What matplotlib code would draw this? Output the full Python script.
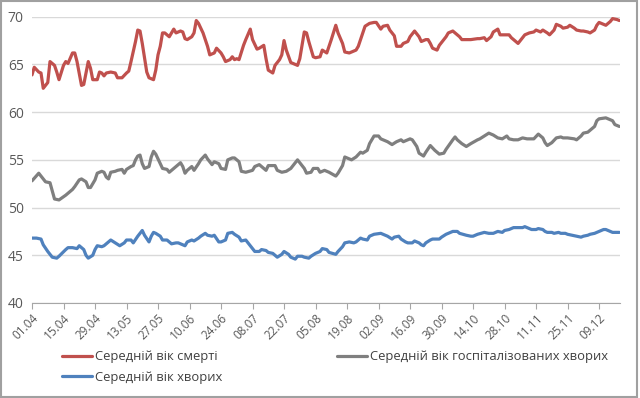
import numpy as np
import pandas as pd
import matplotlib
matplotlib.use("Agg")
import matplotlib.pyplot as plt
import matplotlib.dates as mdates
from matplotlib.patches import Rectangle

plt.rcParams["font.family"] = ["Open Sans", "DejaVu Sans"]

# --- data: days since 01.04, average age ---
START = pd.Timestamp("2020-04-01")

death_day = [0, 1, 3, 4, 5, 7, 8, 10, 11, 12, 14, 15, 16, 18, 19, 20, 22, 23, 25, 26,
             27, 29, 30, 31, 32, 33, 35, 37, 38, 40, 42, 43, 44, 46, 47, 48, 49, 51, 52, 54,
             55, 56, 57, 58, 59, 61, 62, 63, 64, 66, 67, 68, 69, 71, 72, 73, 74, 76, 78, 79,
             81, 82, 84, 85, 86, 88, 89, 90, 91, 92, 94, 95, 97, 98, 100, 101, 103, 104, 105, 107,
             108, 110, 111, 112, 113, 115, 116, 118, 119, 121, 122, 123, 125, 126, 128, 129, 131, 133, 135, 136,
             138, 139, 141, 142, 144, 145, 147, 148, 150, 152, 153, 155, 156, 158, 159, 161, 162, 164, 165, 167,
             168, 170, 172, 173, 175, 176, 177, 178, 180, 181, 184, 185, 187, 188, 190, 191, 193, 195, 198, 199,
             201, 202, 204, 205, 207, 208, 210, 212, 213, 215, 216, 218, 219, 221, 223, 224, 226, 227, 229, 230,
             232, 233, 235, 236, 238, 239, 241, 242, 244, 245, 247, 248, 250, 251, 252, 255, 256, 257, 258, 260,
             261]
death_age = [63.9, 64.7, 64.2, 64.1, 62.5, 63.1, 65.3, 64.9, 64.2, 63.4, 64.9, 65.3, 65.1, 66.2, 66.2, 65.3, 62.8, 62.9, 65.3, 64.6,
             63.4, 63.4, 64.2, 64.1, 63.8, 64.1, 64.2, 64.1, 63.6, 63.6, 64.1, 64.3, 65.3, 67.4, 68.6, 68.5, 67.2, 64.2, 63.6, 63.4,
             64.4, 66.0, 66.9, 68.3, 68.3, 67.9, 68.3, 68.7, 68.3, 68.5, 68.4, 67.7, 67.6, 67.9, 68.3, 69.6, 69.3, 68.3, 66.9, 66.0,
             66.2, 66.7, 66.2, 65.8, 65.3, 65.5, 65.8, 65.5, 65.6, 65.5, 67.0, 67.6, 68.7, 67.6, 66.6, 66.7, 67.0, 65.6, 64.4, 64.1,
             64.9, 65.5, 66.0, 67.5, 66.5, 65.2, 65.1, 64.9, 65.6, 68.4, 68.3, 67.4, 65.8, 65.7, 65.8, 66.5, 66.2, 67.6, 69.1, 68.3,
             67.2, 66.3, 66.2, 66.3, 66.5, 66.9, 68.3, 69.0, 69.3, 69.4, 69.4, 68.7, 69.0, 69.1, 68.6, 68.0, 66.9, 66.9, 67.2, 67.4,
             67.9, 68.5, 67.9, 67.4, 67.6, 67.6, 67.2, 66.7, 66.5, 67.0, 67.9, 68.3, 68.5, 68.3, 67.9, 67.6, 67.6, 67.6, 67.7, 67.7,
             67.8, 67.5, 67.9, 68.4, 68.7, 68.1, 68.1, 68.1, 67.8, 67.4, 67.2, 67.8, 68.1, 68.3, 68.4, 68.6, 68.4, 68.6, 68.3, 68.1,
             68.6, 69.2, 69.0, 68.8, 68.9, 69.1, 68.8, 68.6, 68.5, 68.5, 68.4, 68.3, 68.6, 69.1, 69.4, 69.1, 69.3, 69.5, 69.8, 69.7,
             69.6]

hosp_day = [0, 3, 6, 8, 10, 12, 15, 18, 19, 21, 22, 24, 25, 26, 28, 29, 31, 32, 33, 34,
            35, 37, 38, 40, 41, 42, 44, 45, 46, 47, 48, 49, 50, 52, 53, 54, 55, 57, 58, 60,
            61, 63, 64, 66, 67, 68, 69, 71, 72, 74, 75, 77, 78, 80, 81, 83, 84, 86, 87, 89,
            90, 92, 93, 95, 98, 99, 101, 102, 104, 105, 107, 108, 109, 111, 113, 115, 116, 118, 119, 121,
            122, 124, 125, 127, 128, 130, 132, 135, 136, 138, 139, 141, 142, 144, 146, 147, 149, 150, 152, 154,
            155, 158, 160, 162, 164, 165, 167, 168, 169, 171, 172, 174, 175, 177, 179, 181, 183, 184, 187, 188,
            189, 191, 193, 195, 198, 199, 201, 203, 205, 207, 209, 211, 212, 214, 216, 218, 220, 221, 223, 225,
            227, 228, 229, 231, 233, 235, 236, 238, 241, 242, 244, 245, 247, 248, 250, 251, 252, 255, 256, 258,
            259, 261]
hosp_age = [52.8, 53.6, 52.7, 52.6, 50.9, 50.8, 51.3, 51.9, 52.2, 52.9, 53.0, 52.7, 52.1, 52.1, 52.9, 53.6, 53.8, 53.7, 53.2, 53.0,
            53.7, 53.8, 53.9, 54.0, 53.6, 54.0, 54.3, 54.4, 55.0, 55.4, 55.5, 54.6, 54.1, 54.3, 55.3, 55.9, 55.6, 54.6, 54.1, 54.0,
            53.7, 54.1, 54.3, 54.7, 54.3, 53.6, 53.9, 54.3, 53.9, 54.6, 55.0, 55.5, 55.1, 54.5, 54.8, 54.6, 54.1, 54.0, 55.0, 55.2,
            55.2, 54.8, 53.8, 53.7, 53.9, 54.3, 54.5, 54.3, 53.9, 54.4, 54.4, 54.4, 53.9, 53.7, 53.8, 54.1, 54.4, 55.0, 54.7, 54.1,
            53.6, 53.7, 54.1, 54.1, 53.7, 53.9, 53.7, 53.3, 53.6, 54.4, 55.3, 55.1, 55.0, 55.3, 55.8, 55.7, 56.0, 56.7, 57.5, 57.5,
            57.2, 56.9, 56.6, 56.9, 57.1, 56.9, 57.1, 57.2, 57.1, 56.4, 55.7, 55.4, 55.8, 56.5, 56.0, 55.6, 55.7, 56.1, 57.1, 57.4,
            57.1, 56.7, 56.4, 56.7, 57.1, 57.2, 57.5, 57.8, 57.6, 57.3, 57.2, 57.5, 57.2, 57.1, 57.1, 57.3, 57.2, 57.2, 57.2, 57.7,
            57.3, 56.8, 56.5, 56.8, 57.3, 57.4, 57.3, 57.3, 57.2, 57.1, 57.5, 57.8, 57.9, 58.1, 58.5, 59.1, 59.3, 59.4, 59.3, 59.1,
            58.7, 58.5]

sick_day = [0, 2, 4, 5, 7, 9, 11, 12, 15, 16, 18, 20, 21, 23, 24, 25, 27, 28, 29, 31,
            32, 34, 35, 37, 39, 41, 42, 44, 45, 47, 48, 49, 50, 52, 53, 54, 55, 57, 58, 60,
            61, 62, 64, 65, 67, 68, 69, 71, 72, 74, 75, 77, 78, 80, 81, 83, 84, 86, 87, 89,
            90, 92, 93, 95, 96, 98, 99, 101, 102, 104, 105, 107, 108, 109, 111, 112, 114, 115, 117, 118,
            120, 121, 123, 124, 126, 128, 129, 131, 132, 135, 136, 138, 139, 141, 143, 144, 146, 147, 149, 150,
            152, 155, 157, 158, 160, 161, 163, 164, 166, 167, 169, 170, 172, 173, 174, 175, 177, 178, 181, 182,
            184, 187, 189, 190, 193, 195, 196, 198, 201, 203, 205, 207, 209, 210, 212, 214, 216, 218, 219, 221,
            222, 224, 225, 227, 228, 229, 231, 232, 234, 235, 237, 238, 240, 242, 244, 245, 247, 248, 250, 251,
            252, 254, 255, 257, 258, 261]
sick_age = [46.8, 46.8, 46.7, 46.1, 45.4, 44.8, 44.7, 44.9, 45.6, 45.8, 45.8, 45.7, 46.0, 45.6, 45.0, 44.7, 45.0, 45.6, 46.0, 45.9,
            46.0, 46.4, 46.6, 46.3, 46.0, 46.3, 46.6, 46.6, 46.3, 47.0, 47.3, 47.6, 47.1, 46.4, 47.0, 47.4, 47.3, 47.0, 46.6, 46.6,
            46.4, 46.2, 46.3, 46.3, 46.1, 46.0, 46.4, 46.6, 46.5, 46.8, 47.0, 47.3, 47.1, 47.0, 47.1, 46.4, 46.4, 46.6, 47.3, 47.4,
            47.2, 46.9, 46.5, 46.6, 46.3, 45.7, 45.4, 45.4, 45.6, 45.5, 45.3, 45.2, 45.0, 44.8, 45.1, 45.4, 45.1, 44.8, 44.6, 44.9,
            44.9, 44.8, 44.7, 44.9, 45.2, 45.4, 45.7, 45.6, 45.3, 45.1, 45.4, 45.9, 46.3, 46.4, 46.3, 46.4, 46.8, 46.7, 46.6, 47.0,
            47.2, 47.3, 47.1, 47.0, 46.7, 46.9, 47.0, 46.7, 46.4, 46.3, 46.3, 46.5, 46.3, 46.1, 46.0, 46.3, 46.6, 46.7, 46.7, 46.9,
            47.2, 47.5, 47.5, 47.3, 47.1, 47.0, 47.0, 47.2, 47.4, 47.3, 47.3, 47.5, 47.4, 47.6, 47.7, 47.9, 47.9, 47.9, 48.0, 47.8,
            47.7, 47.7, 47.8, 47.7, 47.5, 47.4, 47.4, 47.3, 47.4, 47.3, 47.3, 47.2, 47.1, 47.0, 46.9, 47.0, 47.1, 47.2, 47.3, 47.4,
            47.5, 47.7, 47.7, 47.5, 47.4, 47.4]

labels = ["Середній вік смерті", "Середній вік госпіталізованих хворих", "Середній вік хворих"]
colors = ["#C0504D", "#7F7F7F", "#4F81BD"]


def to_dates(days):
    return START + pd.to_timedelta(days, unit="D")


fig = plt.figure(figsize=(6.4, 3.98), dpi=100)
ax = fig.add_axes([32 / 640, 1 - 303 / 398, 588 / 640, (303 - 16.7) / 398])

lines = []
for d, a, c, lab in [(death_day, death_age, colors[0], labels[0]),
                     (hosp_day, hosp_age, colors[1], labels[1]),
                     (sick_day, sick_age, colors[2], labels[2])]:
    ln, = ax.plot(to_dates(d), a, color=c, lw=2.3, label=lab, solid_capstyle="round",
                  solid_joinstyle="round")
    lines.append(ln)

ax.set_ylim(40, 70)
ax.set_yticks(range(40, 71, 5))
ax.set_xlim(START, START + pd.Timedelta(days=261.3))
ax.set_xticks(pd.date_range(START, periods=19, freq="14D"))
ax.xaxis.set_major_formatter(mdates.DateFormatter("%d.%m"))
ax.grid(axis="y", color="#D9D9D9", lw=1)
ax.set_axisbelow(True)
for s in ["top", "right", "left"]:
    ax.spines[s].set_visible(False)
ax.spines["bottom"].set_color("#A6A6A6")
ax.tick_params(axis="y", length=0, labelsize=10, labelcolor="#595959", pad=6)
ax.tick_params(axis="x", length=4, color="#A6A6A6", labelsize=8.5, labelcolor="#595959",
               labelrotation=45, pad=2)
for t in ax.get_xticklabels():
    t.set_ha("right")
    t.set_rotation_mode("anchor")

kw = dict(frameon=False, fontsize=9.4, labelcolor="#404040", handlelength=2.3,
          handletextpad=0.2, borderaxespad=0, labelspacing=0.6)
leg1 = fig.legend([lines[0], lines[2]], [labels[0], labels[2]], loc="upper left",
                  bbox_to_anchor=(57 / 640, 1 - 345 / 398), **kw)
leg2 = fig.legend([lines[1]], [labels[1]], loc="upper left",
                  bbox_to_anchor=(332 / 640, 1 - 345 / 398), **kw)

fig.patches.append(Rectangle((0.002, 0.003), 0.994, 0.994, transform=fig.transFigure,
                             fill=False, edgecolor="#A0A0A0", lw=1.5))

fig.savefig("out.png", dpi=100)
